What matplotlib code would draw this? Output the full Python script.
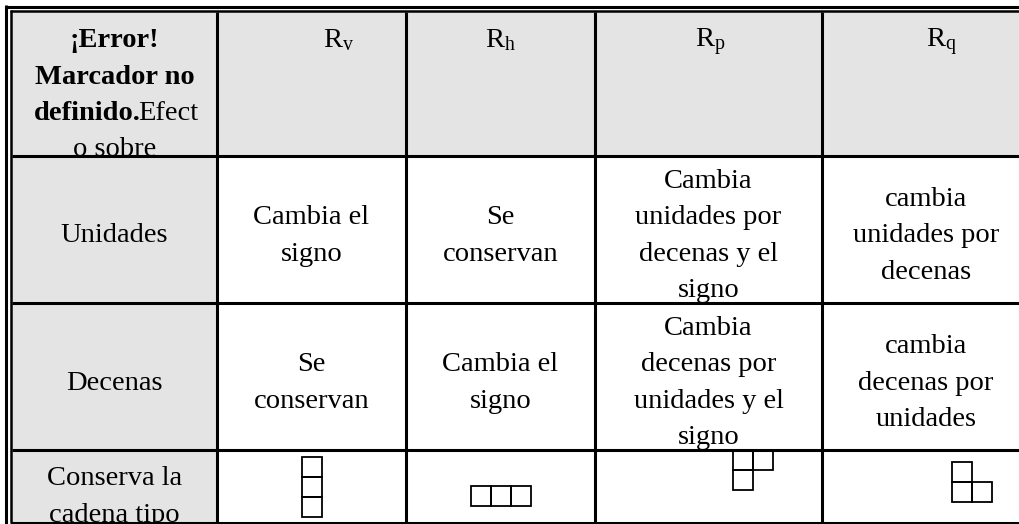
import matplotlib
matplotlib.use('Agg')
import matplotlib.pyplot as plt
from matplotlib.patches import Rectangle

plt.rcParams['font.family'] = ['Liberation Serif', 'DejaVu Serif']
plt.rcParams['mathtext.fontset'] = 'custom'
plt.rcParams['mathtext.rm'] = 'Liberation Serif'

# table content
header_labels = ['v', 'h', 'p', 'q']
row_labels = [['Unidades'], ['Decenas'], ['Conserva la', 'cadena tipo']]
cells = [
    [['Cambia el', 'signo'], ['Se', 'conservan'],
     ['Cambia', 'unidades por', 'decenas y el', 'signo'],
     ['cambia', 'unidades por', 'decenas']],
    [['Se', 'conservan'], ['Cambia el', 'signo'],
     ['Cambia', 'decenas por', 'unidades y el', 'signo'],
     ['cambia', 'decenas por', 'unidades']],
]
# small squares drawn in the last row (column, row) of each unit square
shapes = [
    [(0, 0), (0, 1), (0, 2)],
    [(0, 0), (1, 0), (2, 0)],
    [(0, 0), (1, 0), (0, 1)],
    [(0, 0), (0, 1), (1, 1)],
]

# layout in pixels
W, H = 1019, 524
col_edges = [12, 217, 406, 595, 822, 1030]
row_edges = [12, 156, 303, 450, 522]
head_x = [339, 500, 710, 941]
shape_pos = [(302, 457), (471, 486), (733, 450), (952, 462)]
sq = 20
lh = 36.5
fs = 20.5
gray = '#e4e4e4'
lw = 2.2

fig = plt.figure(figsize=(W / 100, H / 100), dpi=100)
ax = fig.add_axes([0, 0, 1, 1])
ax.set_xlim(0, W)
ax.set_ylim(H, 0)
ax.axis('off')

# gray fills
ax.add_patch(Rectangle((col_edges[0], row_edges[0]), W - col_edges[0],
                       row_edges[1] - row_edges[0], color=gray, lw=0))
ax.add_patch(Rectangle((col_edges[0], row_edges[1]), col_edges[1] - col_edges[0],
                       row_edges[-1] - row_edges[1], color=gray, lw=0))

# grid lines
for x in col_edges[1:5]:
    ax.plot([x, x], [row_edges[0], row_edges[-1]], color='black', lw=lw,
            solid_capstyle='butt')
for y in row_edges[1:4]:
    ax.plot([col_edges[0], W], [y, y], color='black', lw=lw, solid_capstyle='butt')
ax.plot([10, W], [522.5, 522.5], color='black', lw=lw, solid_capstyle='butt')
# double outer border
ax.plot([5, W], [6.5, 6.5], color='black', lw=lw, solid_capstyle='butt')
ax.plot([10, W], [11, 11], color='black', lw=1.8, solid_capstyle='butt')
ax.plot([6.5, 6.5], [5, H], color='black', lw=lw, solid_capstyle='butt')
ax.plot([11, 11], [10, 522], color='black', lw=1.8, solid_capstyle='butt')

fig.canvas.draw()
renderer = fig.canvas.get_renderer()


def text_width(s, weight):
    t = ax.text(0, 0, s, fontsize=fs, fontweight=weight)
    w = t.get_window_extent(renderer).width
    t.remove()
    return w


# header first cell, mixed bold / regular
cx0 = (col_edges[0] + col_edges[1]) / 2
head_lines = [[('¡Error!', 'bold')], [('Marcador no', 'bold')],
              [('definido.', 'bold'), ('Efect', 'normal')], [('o sobre', 'normal')]]
for i, parts in enumerate(head_lines):
    widths = [text_width(s, wt) - (3 if len(parts) > 1 else 0) for s, wt in parts]
    x = cx0 - sum(widths) / 2
    for (s, wt), w in zip(parts, widths):
        ax.text(x, 47 + i * lh, s, fontsize=fs, fontweight=wt, ha='left', va='baseline')
        x += w

for x, lab in zip(head_x, header_labels):
    ax.text(x, 47, r'$\mathregular{R_%s}$' % lab, fontsize=fs, ha='center', va='baseline')


def put_lines(lines, cx, first):
    for i, s in enumerate(lines):
        ax.text(cx, first + i * lh, s, fontsize=fs, ha='center', va='baseline')


# body rows
for r in range(3):
    top, bot = row_edges[r + 1], row_edges[r + 2]
    if r < 2:
        mid = (top + bot) / 2 + 13
        first = mid - (len(row_labels[r]) - 1) / 2 * lh
        put_lines(row_labels[r], cx0, first)
        for c in range(4):
            lines = cells[r][c]
            cx = (col_edges[c + 1] + col_edges[c + 2]) / 2
            first = mid - (len(lines) - 1) / 2 * lh
            put_lines(lines, cx, first)
    else:
        put_lines(row_labels[r], cx0, 485)

# small square chains
for (x0, y0), shape in zip(shape_pos, shapes):
    for i, j in shape:
        ax.add_patch(Rectangle((x0 + i * sq, y0 + j * sq), sq, sq, fill=False,
                               edgecolor='black', lw=1.3))

fig.savefig('out.png', dpi=100)
